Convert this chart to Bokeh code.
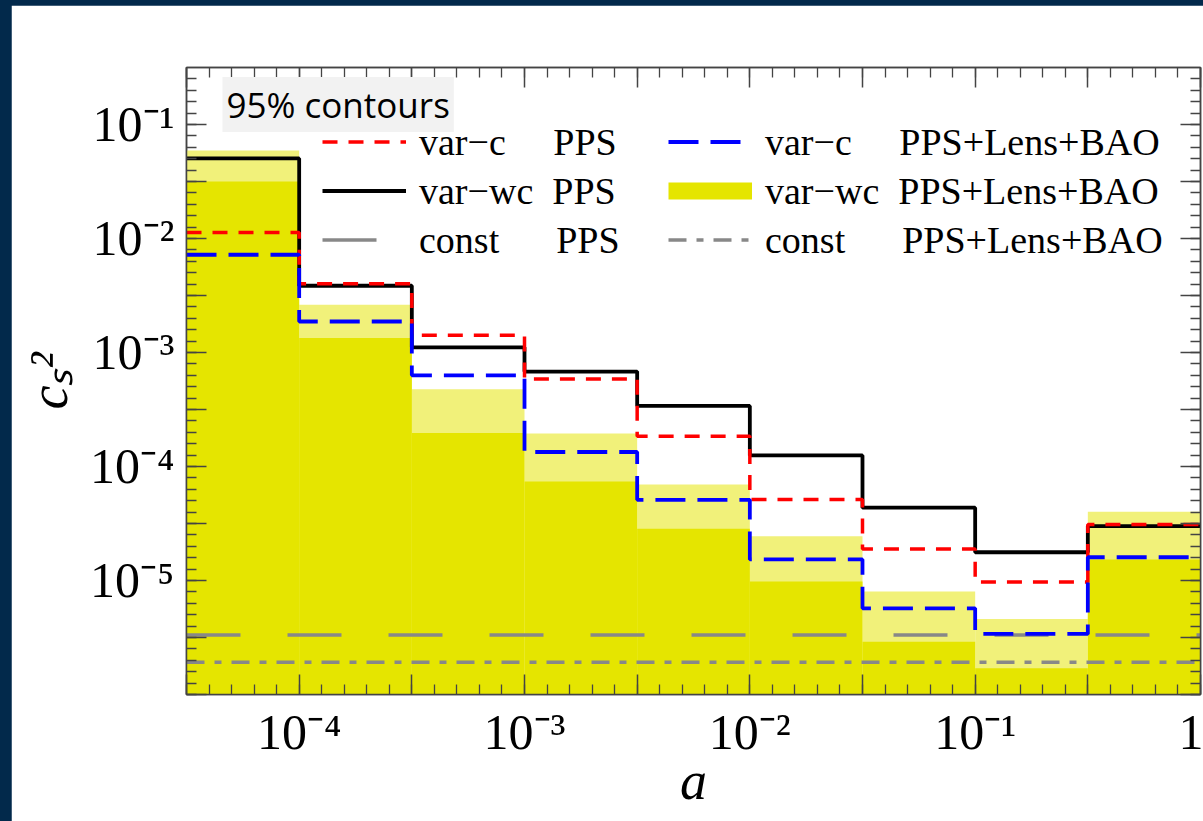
from bokeh.plotting import figure
from bokeh.models import (Range1d, LogAxis, FixedTicker, CustomJSTickFormatter,
                          Label, Legend, LegendItem)
from bokeh.layouts import column
from bokeh.embed import file_html
from bokeh.resources import INLINE

# ---------------- data ----------------
A_EDGES = [3.162e-5, 1e-4, 3.162e-4, 1e-3, 3.162e-3, 1e-2, 3.162e-2, 1e-1, 3.162e-1, 1.0]

VAR_C_PPS = [1.13e-2, 4.0e-3, 1.42e-3, 5.85e-4, 1.84e-4, 5.14e-5, 1.89e-5, 9.7e-6, 3.1e-5]
VAR_WC_PPS = [5.04e-2, 3.85e-3, 1.11e-3, 6.8e-4, 3.4e-4, 1.25e-4, 4.35e-5, 1.77e-5, 3.0e-5]
VAR_C_ALL = [7.2e-3, 1.87e-3, 6.3e-4, 1.34e-4, 5.1e-5, 1.53e-5, 5.7e-6, 3.4e-6, 1.6e-5]
VAR_WC_ALL_UPPER = [5.9e-2, 2.62e-3, 4.75e-4, 1.95e-4, 6.95e-5, 2.45e-5, 8.0e-6, 4.6e-6, 4.0e-5]
VAR_WC_ALL_LOWER = [3.17e-2, 1.34e-3, 1.97e-4, 7.4e-5, 2.85e-5, 9.8e-6, 2.9e-6, 1.7e-6, 1.53e-5]
CONST_PPS = 3.33e-6
CONST_ALL = 1.92e-6

X_RANGE = (3.162e-5, 1.0)
Y_RANGE = (1e-6, 0.3162)

X_LABEL_TICKS = [1e-4, 1e-3, 1e-2, 1e-1, 1.0]
X_LABELS = ["10\u207b\u2074", "10\u207b\u00b3", "10\u207b\u00b2", "10\u207b\u00b9", "1"]
Y_LABEL_TICKS = [1e-1, 1e-2, 1e-3, 1e-4, 1e-5]
Y_LABELS = ["10\u207b\u00b9", "10\u207b\u00b2", "10\u207b\u00b3", "10\u207b\u2074", "10\u207b\u2075"]

X_MAJOR = [10 ** (k / 2) for k in range(-9, 1)]
X_MINOR = [10 ** (k / 10) for k in range(-45, 1)]
Y_MAJOR = [10 ** (k / 2) for k in range(-12, 0)]
Y_MINOR = [10 ** (k / 10) for k in range(-60, -4)]

X_TITLE = "a"
Y_TITLE = "c\u209b\u00b2"

NBSP = "\u00a0"
LEG1 = [("var\u2212c" + NBSP * 5 + "PPS"),
        ("var\u2212wc" + NBSP * 2 + "PPS"),
        ("const" + NBSP * 6 + "PPS")]
LEG2 = [("var\u2212c" + NBSP * 5 + "PPS+Lens+BAO"),
        ("var\u2212wc" + NBSP * 2 + "PPS+Lens+BAO"),
        ("const" + NBSP * 6 + "PPS+Lens+BAO")]

# ---------------- styles ----------------
NAVY = "#02294b"
FRAME = "#444444"
RED = "#ff0000"
BLUE = "#0000ff"
GRAY = "#888888"
YEL_DARK = "#e5e500"
YEL_LIGHT = "#f1f17a"
SERIF = "Liberation Serif"

p = figure(width=1192, height=816, x_axis_type="log", y_axis_type="log",
           x_range=Range1d(*X_RANGE), y_range=Range1d(*Y_RANGE),
           output_backend="svg", toolbar_location=None,
           min_border_left=175, min_border_right=3, min_border_top=62,
           min_border_bottom=127, background_fill_color="white",
           border_fill_color="white")
p.margin = (5, 0, 0, 11)
p.grid.visible = False
p.outline_line_color = FRAME
p.outline_line_width = 1.5

LOOKUP = """
for (let i = 0; i < tvals.length; i++) {
  if (Math.abs(Math.log10(tick) - Math.log10(tvals[i])) < 1e-6) return tlabels[i];
}
return "";
"""
blank = CustomJSTickFormatter(code="return ''")
p.xaxis.ticker = FixedTicker(ticks=X_MAJOR, minor_ticks=X_MINOR)
p.yaxis.ticker = FixedTicker(ticks=Y_MAJOR, minor_ticks=Y_MINOR)
p.add_layout(LogAxis(ticker=FixedTicker(ticks=X_MAJOR, minor_ticks=X_MINOR)), "above")
p.add_layout(LogAxis(ticker=FixedTicker(ticks=Y_MAJOR, minor_ticks=Y_MINOR)), "right")
for ax in p.axis:
    ax.formatter = blank
    ax.major_label_text_font_size = "0px"
    ax.major_label_standoff = 0
    ax.major_tick_in = 20
    ax.major_tick_out = 0
    ax.minor_tick_in = 10
    ax.minor_tick_out = 0
    ax.major_tick_line_color = FRAME
    ax.minor_tick_line_color = FRAME
    ax.major_tick_line_width = 1.5
    ax.minor_tick_line_width = 1.3
    ax.axis_line_color = FRAME
    ax.axis_line_width = 1.5

xb = p.below[0]
xb.formatter = CustomJSTickFormatter(args=dict(tvals=X_LABEL_TICKS, tlabels=X_LABELS), code=LOOKUP)
xb.major_label_text_font = SERIF
xb.major_label_text_font_size = "50px"
xb.major_label_text_color = "black"
xb.major_label_standoff = 9
xb.axis_label = X_TITLE
xb.axis_label_text_font = SERIF
xb.axis_label_text_font_style = "italic"
xb.axis_label_text_font_size = "54px"
xb.axis_label_text_color = "black"
xb.axis_label_standoff = -12

yl = p.left[0]
yl.formatter = CustomJSTickFormatter(args=dict(tvals=Y_LABEL_TICKS, tlabels=Y_LABELS), code=LOOKUP)
yl.major_label_text_font = SERIF
yl.major_label_text_font_size = "50px"
yl.major_label_text_color = "black"
yl.major_label_standoff = 12
yl.axis_label = Y_TITLE
yl.axis_label_text_font = SERIF
yl.axis_label_text_font_style = "italic"
yl.axis_label_text_font_size = "54px"
yl.axis_label_text_color = "black"
yl.axis_label_standoff = 8

# ---------------- glyphs ----------------
left = A_EDGES[:-1]
right = A_EDGES[1:]
floor = [Y_RANGE[0]] * len(left)
p.quad(left=left, right=right, bottom=floor, top=VAR_WC_ALL_UPPER,
       fill_color=YEL_LIGHT, line_color=None)
p.quad(left=left, right=right, bottom=floor, top=VAR_WC_ALL_LOWER,
       fill_color=YEL_DARK, line_color=None)

r_const_pps = p.line(x=[X_RANGE[0], X_RANGE[1]], y=[CONST_PPS, CONST_PPS],
                     line_color=GRAY, line_width=3.5, line_dash="54 47")
r_const_all = p.line(x=[X_RANGE[0], X_RANGE[1]], y=[CONST_ALL, CONST_ALL],
                     line_color=GRAY, line_width=3.5, line_dash="18 10 7 10")

r_black = p.step(x=A_EDGES, y=VAR_WC_PPS + [VAR_WC_PPS[-1]], mode="after",
                 line_color="black", line_width=3.8)
r_red = p.step(x=A_EDGES, y=VAR_C_PPS + [VAR_C_PPS[-1]], mode="after",
               line_color=RED, line_width=3.5, line_dash="15 11")
r_blue = p.step(x=A_EDGES, y=VAR_C_ALL + [VAR_C_ALL[-1]], mode="after",
                line_color=BLUE, line_width=3.8, line_dash="30 12")
# legend swatch for the filled band (a single point draws nothing in the plot)
r_yel = p.line(x=[X_RANGE[0]], y=[Y_RANGE[0]], line_color=YEL_DARK, line_width=17)

# ---------------- legends ----------------
def make_legend(items, loc):
    return Legend(items=items, location=loc, orientation="vertical",
                  glyph_width=84, glyph_height=49, label_height=49, spacing=0,
                  padding=0, margin=0, label_standoff=13,
                  label_text_font=SERIF, label_text_font_size="38px",
                  label_text_color="black", background_fill_alpha=0,
                  border_line_alpha=0)

leg1 = make_legend([LegendItem(label=LEG1[0], renderers=[r_red]),
                    LegendItem(label=LEG1[1], renderers=[r_black]),
                    LegendItem(label=LEG1[2], renderers=[r_const_pps])], (136, 430))
leg2 = make_legend([LegendItem(label=LEG2[0], renderers=[r_blue]),
                    LegendItem(label=LEG2[1], renderers=[r_yel]),
                    LegendItem(label=LEG2[2], renderers=[r_const_all])], (482, 430))
p.add_layout(leg1)
p.add_layout(leg2)

p.add_layout(Label(x=X_RANGE[0], y=Y_RANGE[1], x_offset=36, y_offset=-37,
                   text="95% contours", text_font="Open Sans", text_font_size="35px",
                   text_baseline="middle", text_align="left", text_color="black",
                   background_fill_color="#f2f2f2", padding=4))

layout = column(p, styles={"background-color": NAVY})
open("out.html", "w").write(file_html(layout, INLINE))
